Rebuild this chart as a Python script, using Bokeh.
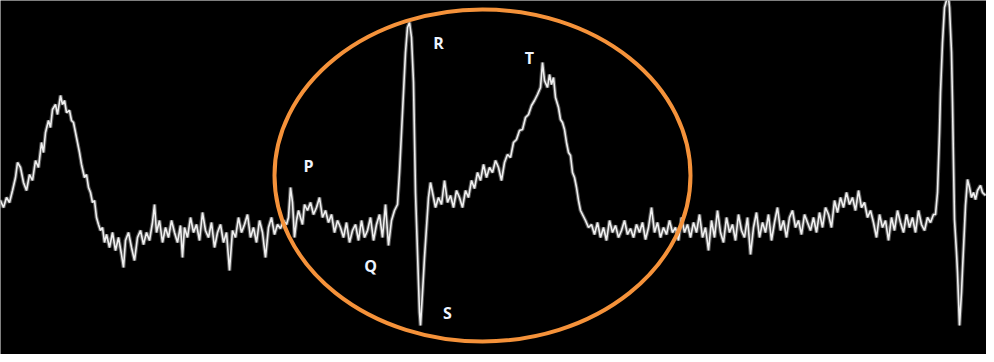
from bokeh.plotting import figure
from bokeh.models import Range1d, ColumnDataSource
from bokeh.core.properties import value
from bokeh.embed import file_html
from bokeh.resources import INLINE

# ECG trace: sample index (display time units) and amplitude (mV)
t_ms = [5, 8, 11, 14, 17, 20, 23, 25, 28, 31, 34, 37, 40, 43, 46, 49, 51, 53, 56, 58,
        60, 63, 65, 68, 70, 72, 74, 77, 79, 81, 83, 85, 87, 89, 92, 94, 96, 98, 100, 102,
        104, 106, 108, 110, 112, 114,
        117, 120, 123, 126, 129, 131, 133, 136, 139, 142, 145, 148, 151, 154, 157, 160, 162, 164, 167, 170,
        173, 176, 179, 182, 185, 188, 190, 192, 195, 198, 201, 204, 207, 210, 213, 216, 219, 222, 225, 228,
        231, 234, 237, 240, 243, 246, 249, 252, 255, 258, 261, 264, 267, 270, 273, 276, 279, 282, 285, 288, 291,
        294, 296, 298, 300, 302, 304, 306, 308, 310, 312, 315, 318, 321, 324, 327, 330, 333, 336, 339, 342,
        345, 348, 351, 354, 357, 360, 363, 366, 369, 372, 375, 378, 381, 384, 387, 390, 393, 396, 399, 402, 405,
        407, 409, 411, 413, 415, 417, 419, 421, 423, 425, 427, 428, 430, 432, 434, 436, 438, 440,
        443, 446, 449, 452, 455, 458, 461, 464, 467, 470, 473, 476, 479, 482, 485, 488, 491, 494, 497, 500,
        503, 506, 509, 512, 515, 518, 521, 524, 527, 530, 533, 536, 539, 542, 545, 548, 550, 552, 555, 557,
        559, 561, 563, 566, 568, 570, 572, 574, 576, 578, 580, 582, 584, 586, 588, 590, 593, 596,
        599, 602, 605, 608, 611, 614, 617, 620, 623, 626, 629, 632, 635, 638, 641, 644, 647, 650, 653, 656,
        659, 662, 665, 668, 671, 674, 677, 680, 683, 686, 689, 692, 695, 698, 701, 704, 707, 710, 713, 716,
        719, 722, 725, 728, 731, 734, 737, 740, 743, 746, 749, 752, 755, 758, 761, 764, 767, 770, 773, 776,
        779, 782, 785, 788, 791, 794, 797, 800, 803, 806, 809, 812, 815, 818, 821, 824, 827, 830, 833, 836,
        839, 842, 845, 848, 851, 854, 857, 860, 863, 866, 869, 872, 875, 878, 881, 884, 887, 890, 893, 896,
        899, 902, 905, 908, 911, 914, 917, 920, 923, 926, 929, 932, 935, 938, 941, 943,
        945, 946, 947, 948, 950, 952, 954, 955, 956, 957, 959, 960, 961, 962, 964, 965, 967, 969, 970, 972,
        973, 975, 977, 979, 981, 983, 985, 988, 990, 993]

ecg_mv = [0.23, 0.27, 0.20, 0.30, 0.25, 0.37, 0.50, 0.65, 0.60, 0.45, 0.37, 0.53, 0.47, 0.67, 0.60, 0.85, 0.75, 0.95, 1.07, 1.00,
          1.18, 1.23, 1.13, 1.32, 1.23, 1.27, 1.15, 1.17, 1.07, 1.05, 0.95, 0.85, 0.75, 0.63, 0.50, 0.53, 0.40, 0.35, 0.25, 0.27,
          0.10, 0.03, -0.03, 0.00, -0.15, -0.07,
          -0.20, -0.05, -0.23, -0.10, -0.27, -0.40, -0.13, -0.05, -0.20, -0.33, -0.10, -0.03, -0.17, -0.05, -0.13, 0.05, 0.23, -0.05, 0.07, -0.15,
          0.00, -0.10, 0.07, -0.05, -0.15, 0.02, -0.30, 0.00, -0.10, 0.10, -0.05, 0.03, -0.13, 0.15, -0.03, -0.10, 0.05, -0.20, -0.05, 0.03,
          -0.15, -0.05, -0.43, -0.03, -0.10, 0.10, -0.05, 0.03, 0.13, -0.10, 0.00, -0.15, 0.07, -0.05, -0.30, 0.00, 0.10, -0.07, 0.03, -0.01, 0.07,
          0.03, 0.10, 0.40, 0.25, -0.10, 0.07, 0.17, 0.10, 0.03, 0.23, 0.17, 0.25, 0.13, 0.20, 0.30, 0.10, 0.17, 0.05, 0.13, -0.05,
          0.07, 0.00, -0.10, 0.05, -0.15, -0.03, 0.03, -0.13, 0.07, -0.10, -0.03, 0.10, -0.13, 0.03, 0.13, -0.10, 0.23, -0.18, 0.07, 0.17, 0.23,
          0.55, 0.95, 1.35, 1.75, 2.00, 2.05, 1.90, 1.45, 0.35, -0.25, -0.85, -0.98, -0.65, -0.30, 0.00, 0.30, 0.45, 0.35,
          0.20, 0.30, 0.23, 0.47, 0.25, 0.32, 0.20, 0.37, 0.30, 0.20, 0.37, 0.30, 0.47, 0.39, 0.55, 0.47, 0.63, 0.50, 0.60, 0.55,
          0.67, 0.60, 0.47, 0.65, 0.73, 0.70, 0.85, 0.88, 0.97, 0.98, 1.10, 1.13, 1.22, 1.27, 1.33, 1.40, 1.65, 1.47, 1.40, 1.53,
          1.43, 1.50, 1.30, 1.20, 1.08, 1.05, 0.98, 0.85, 0.75, 0.72, 0.55, 0.50, 0.40, 0.27, 0.17, 0.13, 0.07, 0.00,
          0.03, -0.07, 0.05, -0.10, 0.00, -0.13, 0.07, -0.05, 0.02, -0.10, -0.03, 0.07, -0.07, -0.01, -0.10, 0.03, -0.05, 0.05, -0.12, 0.00,
          0.20, -0.05, 0.05, -0.10, 0.00, -0.07, 0.07, -0.05, 0.00, -0.13, 0.10, -0.05, 0.03, -0.10, 0.05, -0.05, 0.13, -0.10, 0.00, -0.23,
          0.07, -0.10, 0.17, -0.05, -0.15, 0.10, -0.05, 0.03, -0.13, 0.13, -0.03, -0.10, 0.10, -0.27, 0.00, 0.15, -0.10, 0.05, -0.05, 0.13,
          -0.13, 0.05, 0.20, -0.03, 0.07, -0.10, 0.10, 0.17, 0.00, 0.07, -0.07, 0.13, 0.05, -0.03, 0.10, -0.05, 0.15, 0.00, 0.20, 0.13,
          0.00, 0.27, 0.15, 0.30, 0.20, 0.35, 0.23, 0.30, 0.17, 0.37, 0.20, 0.25, 0.10, 0.17, 0.05, -0.10, 0.13, 0.00, 0.07, -0.13,
          0.10, -0.03, 0.17, 0.05, -0.05, 0.13, 0.00, 0.10, -0.05, 0.17, 0.03, -0.03, 0.10, 0.05, 0.13, 0.13,
          0.35, 0.65, 0.95, 1.35, 1.85, 2.20, 2.27, 2.35, 2.30, 2.20, 1.75, 1.25, 0.65, 0.08, -0.25, -0.45, -0.98, -0.65, -0.42, 0.00,
          0.22, 0.48, 0.40, 0.30, 0.35, 0.28, 0.37, 0.42, 0.35, 0.32]

# Wave labels and their positions
wave_labels = ["P", "Q", "R", "S", "T"]
label_t = [316, 378, 446, 455, 537]
label_mv = [0.62, -0.38, 1.85, -0.85, 1.70]

# Highlight ellipse around one PQRST complex
ellipse_t = [490]
ellipse_mv = [0.52]
ellipse_w = [416]
ellipse_h = [3.32]

p = figure(width=986, height=354, output_backend="svg", toolbar_location=None,
           x_range=Range1d(8, 994), y_range=Range1d(-1.27, 2.27),
           background_fill_color="black", border_fill_color="black",
           min_border=0, min_border_left=0, min_border_right=0,
           min_border_top=0, min_border_bottom=0)
p.axis.visible = False
p.grid.visible = False
p.outline_line_color = None

src = ColumnDataSource(dict(t=t_ms, v=ecg_mv))
p.line("t", "v", source=src, line_color="#bdbdbd", line_width=3.8, line_alpha=0.45)
p.line("t", "v", source=src, line_color="#f0f0f0", line_width=1.6)

p.ellipse(x=ellipse_t, y=ellipse_mv, width=ellipse_w, height=ellipse_h,
          fill_alpha=0, line_color="#f5923a", line_width=4)

p.text(x=label_t, y=label_mv, text=wave_labels, text_color="#eef4ff",
       text_font=value("Open Sans"), text_font_size="16px", text_font_style="bold",
       text_align="center", text_baseline="middle")

open("out.html", "w").write(file_html(p, INLINE))
